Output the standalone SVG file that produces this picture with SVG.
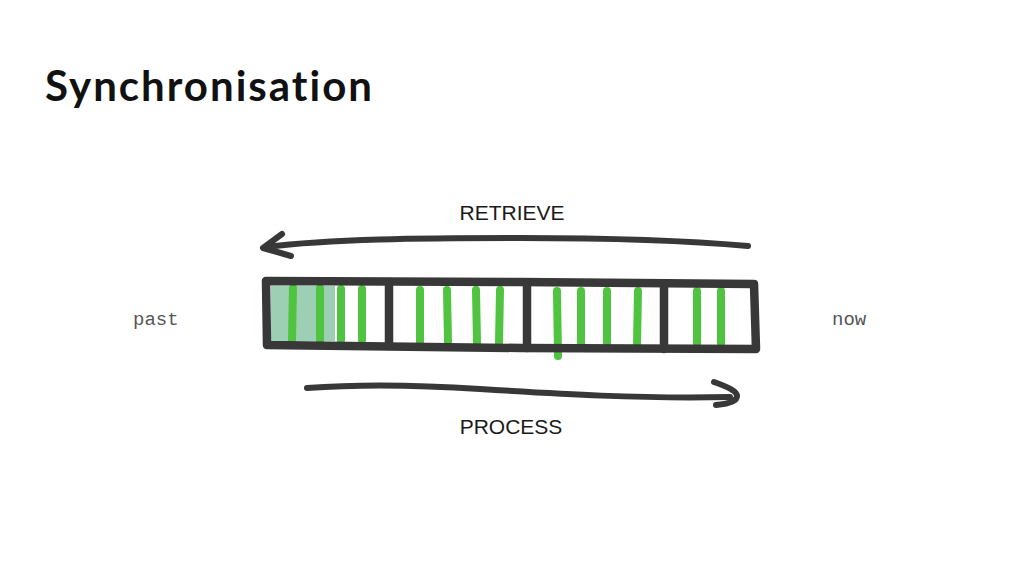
<svg xmlns="http://www.w3.org/2000/svg" width="1024" height="576" viewBox="0 0 1024 576">
<style>
.title{font-family:Lato,"Noto Sans",sans-serif;font-weight:700;font-size:42px;fill:#111;font-variant-ligatures:none}
.lbl{font-family:"Liberation Sans",Arial,sans-serif;font-size:21px;fill:#1a1a1a}
.mono{font-family:"Liberation Mono","Courier New",monospace;font-size:19px;fill:#555}
.ink{fill:none;stroke:#383838;stroke-linecap:round;stroke-linejoin:round}
.g{stroke:#50c440;stroke-width:8;stroke-linecap:round;fill:none}
</style>
<rect width="1024" height="576" fill="#fff"/>
<text class="title" x="45" y="101" textLength="327">Synchronisation</text>
<g id="bar">
<rect x="271" y="286" width="64" height="55" fill="#9ccfb3"/>
<path class="g" d="M293 288 L292 340 M320 288 L320 340 M341 289 L341 340 M362 289 L362 340"/>
<path class="g" d="M420 290 L420 342 M447 290 L448 342 M476 290 L477 343 M500 290 L499 343"/>
<path class="g" d="M557 291 L558 356 M581 291 L581 343 M607 291 L607 343 M638 291 L637 344"/>
<path class="g" d="M697 291 L697 344 M721 291 L721 344"/>
<path class="ink" stroke-width="8.5" d="M266 281 L520 282 L754 284 L756 349 L520 348 L267 345 Z"/>
<path class="ink" stroke-width="8.5" d="M389 282 L389 346 M527 283 L527 348 M664 284 L664 349"/>
</g>
<g id="connectors">
<path class="ink" stroke-width="6" d="M748 246 C680 240 600 238 520 238 C420 238 330 239 266 247"/>
<path class="ink" stroke-width="6" d="M282 234 L263 248 L291 256"/>
<path class="ink" stroke-width="6" d="M307 388 C360 384 420 385 480 389 C560 394 640 399 730 397"/>
<path class="ink" stroke-width="6" d="M714 382 C728 387 737 391 737 396 C737 401 728 404 716 405"/>
</g>
<g id="labels">
<text class="lbl" x="512" y="220" text-anchor="middle">RETRIEVE</text>
<text class="lbl" x="511" y="434" text-anchor="middle">PROCESS</text>
<text class="mono" x="133" y="325">past</text>
<text class="mono" x="832" y="325">now</text>
</g>
</svg>
